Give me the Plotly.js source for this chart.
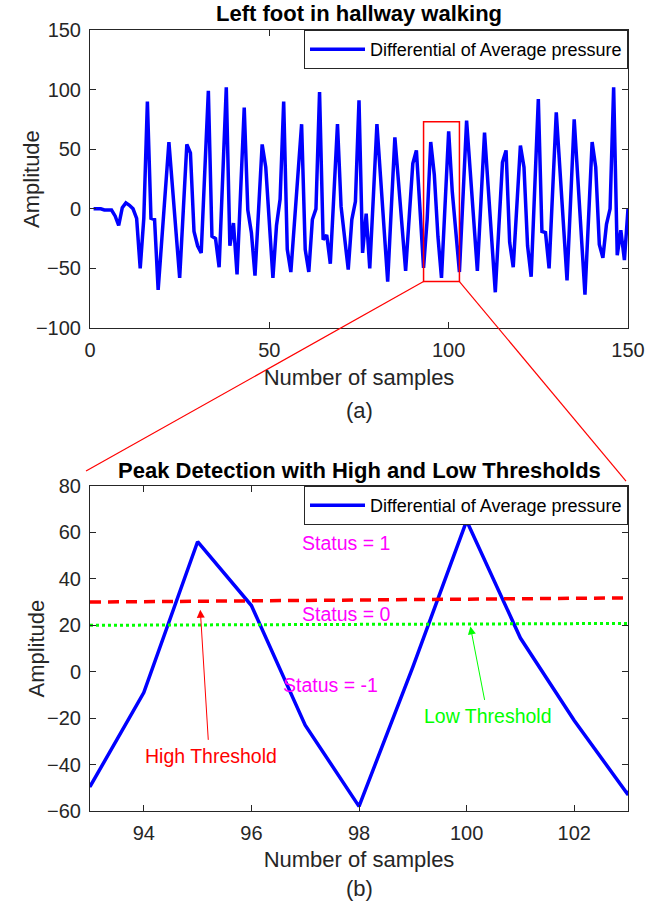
<!DOCTYPE html>
<html>
<head>
<meta charset="utf-8">
<script src="https://cdn.plot.ly/plotly-3.0.1.min.js"></script>
<style>
  html, body { margin: 0; padding: 0; background: #ffffff; }
  #chart { width: 665px; height: 910px; }
</style>
</head>
<body>
<div id="chart"></div>
<script>
// ---- data ----
const samples = [];
for (let i = 1; i <= 150; i++) samples.push(i);

const avgPressureDiff = [
  0, 0, 0, -1, -1, -1, -6, -14, 1, 5,
  3, 0, -8, -50, -8, 90, -8, -9, -68, -27,
  15, 56, 18, -20, -58, -2, 54, 47, -19, -31,
  -37, 31, 99, -23, -25, -49, 26, 102, -31, -12,
  -55, 15, 85, -1, -20, -56, -1, 54, 35, -11,
  -58, -14, 8, 90, -34, -53, -12, 30, 71, -34,
  -53, -9, 0, 98, -26, -22, -46, 12, 71, 2,
  -25, -51, -9, 6, 91, -37, -4, -50, 10, 71,
  27, -17, -61, 0, 60, 23, -15, -52, -7, 38,
  49, 0, -49.5, -9, 56, 28.5, -23, -58, 2, 65,
  14.5, -21, -53, 10, 74, 32, -10, -52, 6, 64,
  19, -25, -70, -15, 39, 49, -28, -49, 2, 53,
  35, -31, -57, 17, 92, -19, -20, -50, 15, 81,
  34, -13, -60, 7, 75, 26, -23, -72, -8, 56,
  35, -30, -41, -13, 0, 102, -39, -18, -43, 0
];

const zoomX = [93, 103];          // zoomed window (samples)
const zoomY = [-61, 73];          // zoomed window (amplitude) marked in (a)
const thresholdX = [93, 103];
const highThreshold = [30, 31.8];
const lowThreshold = [20, 20.8];

const topXTicks = [0, 50, 100, 150];
const botXTicks = [94, 96, 98, 100, 102];

// ---- styling ----
const FONT = 'Liberation Sans, Arial, Helvetica, sans-serif';
const AX = '#262626';
const topDomain = [0.6184, 1];
const botDomain = [0, 0.4161];
const topXRange = [0, 150], topYRange = [-100, 150];
const TICK = 20, LABEL = 22, NOTE = 19.5;

function axisBase() {
  return {
    showline: true, linecolor: AX, linewidth: 1, mirror: 'ticks',
    ticks: 'inside', ticklen: 6, tickcolor: AX, tickwidth: 1,
    showgrid: false, zeroline: false,
    tickfont: { family: FONT, size: TICK, color: AX },
    ticklabelstandoff: 4
  };
}

const traces = [
  {
    x: samples, y: avgPressureDiff, type: 'scatter', mode: 'lines',
    name: 'Differential of Average pressure',
    line: { color: '#0000ff', width: 3.5 },
    xaxis: 'x', yaxis: 'y', legend: 'legend'
  },
  {
    x: samples, y: avgPressureDiff, type: 'scatter', mode: 'lines',
    name: 'Differential of Average pressure',
    line: { color: '#0000ff', width: 3.5 },
    xaxis: 'x2', yaxis: 'y2', legend: 'legend2'
  },
  {
    x: thresholdX, y: highThreshold, type: 'scatter', mode: 'lines',
    name: 'High Threshold', showlegend: false,
    line: { color: '#ff0000', width: 3.5, dash: '11px,7px' },
    xaxis: 'x2', yaxis: 'y2'
  },
  {
    x: thresholdX, y: lowThreshold, type: 'scatter', mode: 'lines',
    name: 'Low Threshold', showlegend: false,
    line: { color: '#00ff00', width: 3, dash: 'dot' },
    xaxis: 'x2', yaxis: 'y2'
  }
];

// convert a point of the top axes to paper coordinates (for the zoom connector lines)
function topToPaper(x, y) {
  return {
    x: (x - topXRange[0]) / (topXRange[1] - topXRange[0]),
    y: topDomain[0] + (y - topYRange[0]) / (topYRange[1] - topYRange[0]) * (topDomain[1] - topDomain[0])
  };
}
const pL = topToPaper(zoomX[0], zoomY[0]);
const pR = topToPaper(zoomX[1], zoomY[0]);

const legendBase = {
  xref: 'paper', yref: 'paper', x: 1, xanchor: 'right', yanchor: 'top',
  bgcolor: '#ffffff', bordercolor: AX, borderwidth: 1,
  font: { family: FONT, size: 18, color: '#000000' },
  itemwidth: 55, tracegroupgap: 0
};

const layout = {
  width: 665, height: 910,
  margin: { l: 90, r: 37, t: 30, b: 99 },
  paper_bgcolor: '#ffffff', plot_bgcolor: '#ffffff',
  font: { family: FONT, color: AX },
  xaxis: Object.assign(axisBase(), {
    domain: [0, 1], anchor: 'y', range: topXRange, tickvals: topXTicks,
    title: { text: 'Number of samples', font: { family: FONT, size: LABEL, color: AX }, standoff: 9 }
  }),
  yaxis: Object.assign(axisBase(), {
    domain: topDomain, anchor: 'x', range: topYRange, dtick: 50, tick0: 0
  }),
  xaxis2: Object.assign(axisBase(), {
    domain: [0, 1], anchor: 'y2', range: [93, 103], tickvals: botXTicks,
    title: { text: 'Number of samples', font: { family: FONT, size: LABEL, color: AX }, standoff: 8 }
  }),
  yaxis2: Object.assign(axisBase(), {
    domain: botDomain, anchor: 'x2', range: [-60, 80], dtick: 20, tick0: 0
  }),
  legend: Object.assign({}, legendBase, { y: topDomain[1] }),
  legend2: Object.assign({}, legendBase, { y: botDomain[1] }),
  shapes: [
    { type: 'rect', xref: 'x', yref: 'y', x0: zoomX[0], x1: zoomX[1], y0: zoomY[0], y1: zoomY[1],
      line: { color: '#ff0000', width: 1.5 }, fillcolor: 'rgba(0,0,0,0)' },
    { type: 'line', xref: 'paper', yref: 'paper', x0: pL.x, y0: pL.y, x1: -0.0074, y1: 0.4353,
      line: { color: '#ff0000', width: 1.2 } },
    { type: 'line', xref: 'paper', yref: 'paper', x0: pR.x, y0: pR.y, x1: 0.9963, y1: 0.4225,
      line: { color: '#ff0000', width: 1.2 } }
  ],
  annotations: [
    { xref: 'paper', yref: 'paper', x: 0.5, y: 1.0205, yanchor: 'middle', showarrow: false,
      text: '<b>Left foot in hallway walking</b>', font: { family: FONT, size: 22, color: '#000000' } },
    { xref: 'paper', yref: 'paper', x: 0.5, y: 0.4366, yanchor: 'middle', showarrow: false,
      text: '<b>Peak Detection with High and Low Thresholds</b>', font: { family: FONT, size: 22, color: '#000000' } },
    // y-axis titles
    { xref: 'paper', yref: 'paper', x: -0.1097, y: (topDomain[0] + topDomain[1]) / 2,
      xanchor: 'center', yanchor: 'middle', textangle: -90, showarrow: false,
      text: 'Amplitude', font: { family: FONT, size: LABEL, color: AX } },
    { xref: 'paper', yref: 'paper', x: -0.0985, y: (botDomain[0] + botDomain[1]) / 2,
      xanchor: 'center', yanchor: 'middle', textangle: -90, showarrow: false,
      text: 'Amplitude', font: { family: FONT, size: LABEL, color: AX } },
    { xref: 'paper', yref: 'paper', x: 0.5, y: 0.5134, yanchor: 'middle', showarrow: false,
      text: '(a)', font: { family: FONT, size: LABEL, color: AX } },
    { xref: 'paper', yref: 'paper', x: 0.5, y: -0.0986, yanchor: 'middle', showarrow: false,
      text: '(b)', font: { family: FONT, size: LABEL, color: AX } },
    { xref: 'x2', yref: 'y2', x: 97.76, y: 55.6, showarrow: false,
      text: 'Status = 1', font: { family: FONT, size: NOTE, color: '#ff00ff' } },
    { xref: 'x2', yref: 'y2', x: 97.76, y: 25, showarrow: false,
      text: 'Status = 0', font: { family: FONT, size: NOTE, color: '#ff00ff' } },
    { xref: 'x2', yref: 'y2', x: 97.47, y: -5.6, showarrow: false,
      text: 'Status = -1', font: { family: FONT, size: NOTE, color: '#ff00ff' } },
    { xref: 'x2', yref: 'y2', x: 95.25, y: -36.2, showarrow: false,
      text: 'High Threshold', font: { family: FONT, size: NOTE, color: '#ff0000' } },
    { xref: 'x2', yref: 'y2', x: 100.39, y: -19, showarrow: false,
      text: 'Low Threshold', font: { family: FONT, size: NOTE, color: '#00ff00' } },
    { xref: 'x2', yref: 'y2', x: 95.05, y: 26.7, axref: 'x2', ayref: 'y2', ax: 95.2, ay: -30,
      text: '', showarrow: true, arrowhead: 2, arrowsize: 1.6, arrowwidth: 1, arrowcolor: '#ff0000' },
    { xref: 'x2', yref: 'y2', x: 100.07, y: 19.5, axref: 'x2', ayref: 'y2', ax: 100.34, ay: -12.8,
      text: '', showarrow: true, arrowhead: 2, arrowsize: 1.6, arrowwidth: 1, arrowcolor: '#00ff00' }
  ],
  showlegend: true
};

Plotly.newPlot('chart', traces, layout, { displayModeBar: false, staticPlot: true });
</script>
</body>
</html>
